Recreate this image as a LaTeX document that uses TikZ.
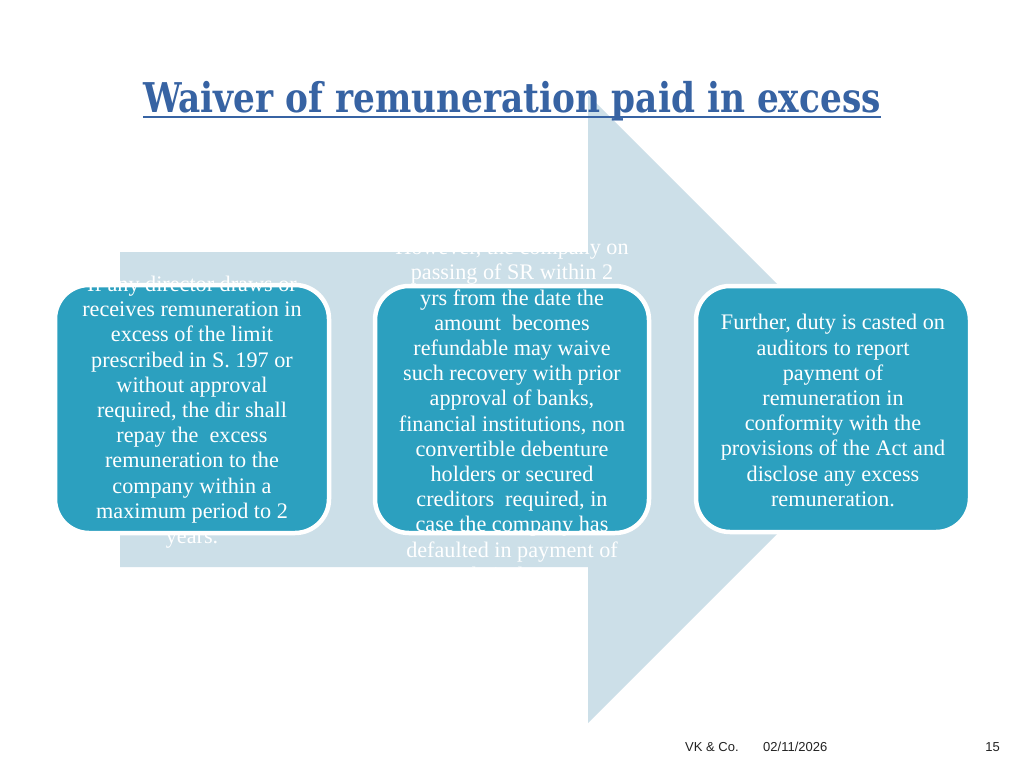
\documentclass[tikz,border=0pt]{standalone}
\usepackage{fontspec}
\setmainfont{Liberation Serif}
\newfontfamily\titlefont{DejaVu Serif Condensed}[FakeStretch=0.93]
\newfontfamily\footfont{Liberation Sans}
\definecolor{arrowfill}{HTML}{CCDFE8}
\definecolor{boxfill}{HTML}{2CA0BF}
\definecolor{titleblue}{HTML}{3763A3}
\definecolor{footgray}{HTML}{222222}
\tikzset{
  stepbox/.style={draw=white, line width=4.5pt, fill=boxfill, rounded corners=34pt},
  boxtext/.style={text=white, align=center, inner sep=0pt, font=\fontsize{22.2}{25.2}\selectfont},
  foot/.style={text=footgray, inner sep=0pt, font=\footfont\fontsize{13}{15}\selectfont}
}
\begin{document}
\begin{tikzpicture}[x=1pt,y=-1pt]
\useasboundingbox (0,0) rectangle (1024,768);
\fill[white] (0,0) rectangle (1024,768);
% big arrow
\fill[arrowfill] (120,252) -- (588,252) -- (588,95) -- (902,409) -- (588,723) -- (588,567) -- (120,567) -- cycle;
% title
\node[anchor=base, inner sep=0pt, text=titleblue, font=\titlefont\bfseries\fontsize{41}{46}\selectfont] (title) at (512,112) {Waiver of remuneration paid in excess};
\draw[titleblue, line width=2.5pt] ([yshift=-5pt]title.base west) -- ([yshift=-5pt]title.base east);
% boxes
\path[stepbox] (55,285) rectangle (329,533);
\path[stepbox] (375,286) rectangle (649,533);
\path[stepbox] (696,286) rectangle (970,532);
\coordinate (c1) at (192,412);
\coordinate (c2) at (512,411);
\coordinate (c3) at (833,410.5);
\node[boxtext] (t1) at (c1) {If any director draws or\\receives remuneration in\\excess of the limit\\prescribed in S. 197 or\\without approval\\required, the dir shall\\repay the\ \ excess\\remuneration to the\\company within a\\maximum period to 2\\years.};
\node[boxtext] (t2) at (c2) {However, the company on\\passing of SR within 2\\yrs from the date the\\amount\ \ becomes\\refundable may waive\\such recovery with prior\\approval of banks,\\financial institutions, non\\convertible debenture\\holders or secured\\creditors\ \ required, in\\case the company has\\defaulted in payment of\\their dues.};
\node[boxtext] (t3) at (c3) {Further, duty is casted on\\auditors to report\\payment of\\remuneration in\\conformity with the\\provisions of the Act and\\disclose any excess\\remuneration.};
% footer
\node[foot, anchor=base west] (f1) at (685,751) {VK \& Co.};
\node[foot, anchor=base west] (f2) at (763,751) {02/11/2026};
\node[foot, anchor=base east] (f3) at (1000,751) {15};
\end{tikzpicture}
\end{document}
